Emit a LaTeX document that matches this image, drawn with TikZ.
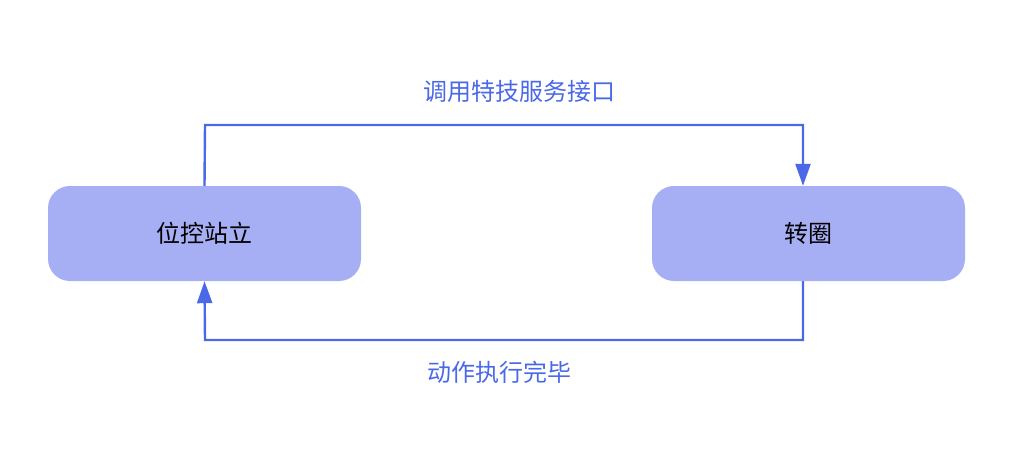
\documentclass[tikz,border=0pt]{standalone}
\usepackage{fontspec}
\setmainfont{Noto Sans CJK SC}
\usetikzlibrary{arrows.meta}
\definecolor{boxfill}{HTML}{A6AEF4}
\definecolor{lineblue}{HTML}{4A68E8}
\tikzset{
  statebox/.style={fill=boxfill,draw=none,rounded corners=22pt,minimum width=313pt,minimum height=95pt,font=\fontsize{24}{28}\selectfont,text=black},
  conn/.style={draw=lineblue,line width=2.4pt,-{Triangle[length=22pt,width=15pt]}},
  lbl/.style={text=lineblue,font=\fontsize{24}{28}\selectfont}
}
\begin{document}
\begin{tikzpicture}[x=1pt,y=-1pt]
\useasboundingbox (0,0) rectangle (1014,459);
\node[statebox] (a) at (204.5,233.5) {位控站立};
\node[statebox] (b) at (808.5,233.5) {转圈};
\coordinate (t1) at (205,125);
\coordinate (t2) at (803,125);
\coordinate (b1) at (803,340);
\coordinate (b2) at (205,340);
\draw[conn] (a.north) -- (t1) -- (t2) -- (b1 |- b.north);
\draw[conn] (b1 |- b.south) -- (b1) -- (b2) -- (a.south);
\node[lbl] (l1) at (519,91) {调用特技服务接口};
\node[lbl] (l2) at (499,372) {动作执行完毕};
\end{tikzpicture}
\end{document}
